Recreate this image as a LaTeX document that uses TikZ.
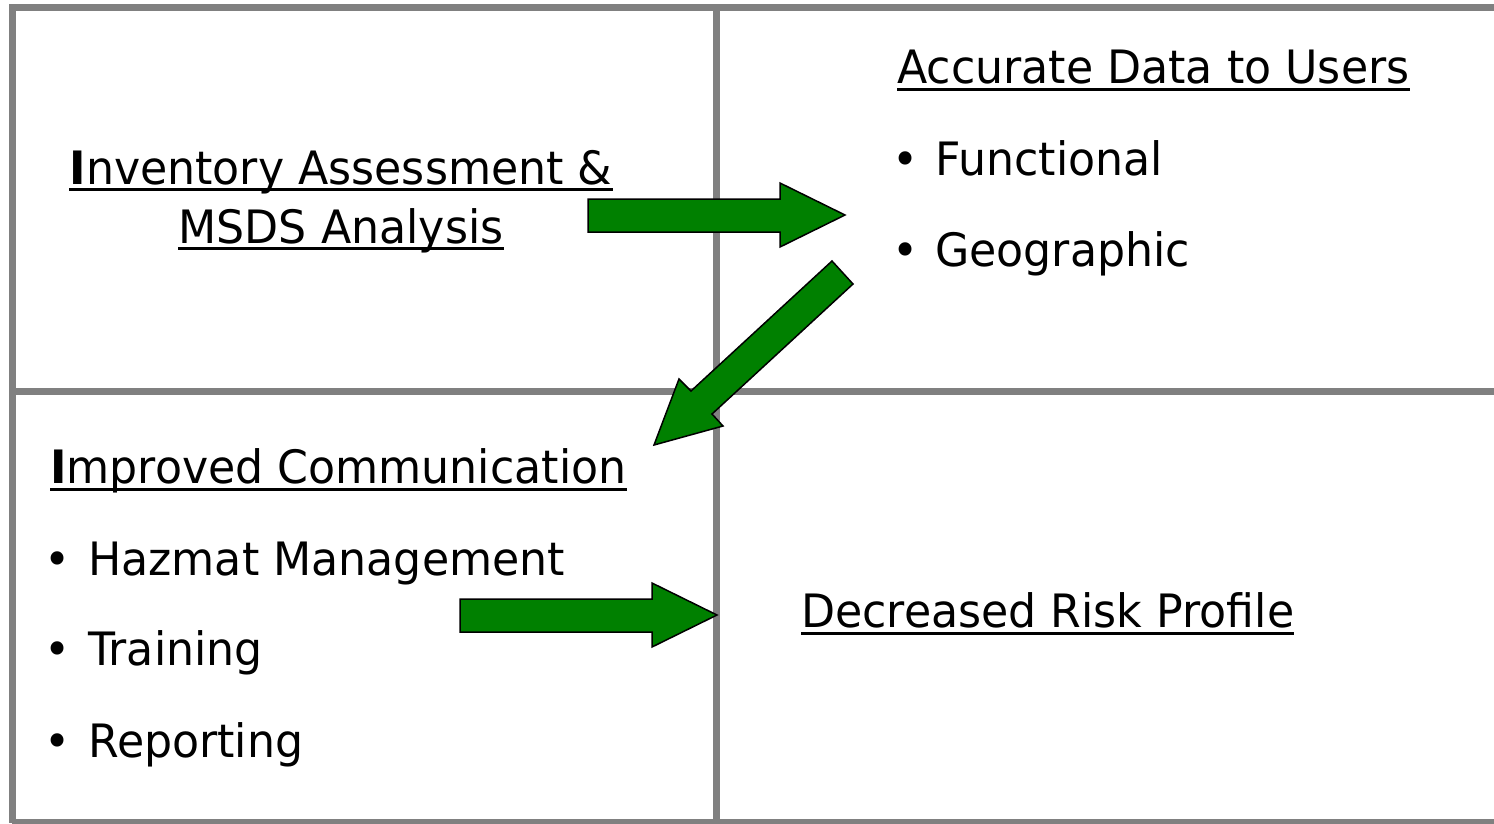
\documentclass[tikz,border=0pt]{standalone}
\usepackage{fontspec}
\setmainfont{DejaVu Sans}[FakeStretch=0.962]
\definecolor{gridgray}{RGB}{128,128,128}
\definecolor{arrowgreen}{RGB}{0,128,0}
\begin{document}
\begin{tikzpicture}[x=1pt,y=-1pt,
  gridline/.style={draw=gridgray, line width=7pt},
  blockarrow/.style={fill=arrowgreen, draw=black, line width=1.5pt, line join=miter},
  lbl/.style={inner sep=0pt, anchor=base west, font=\fontsize{46}{52}\selectfont},
  clbl/.style={lbl, anchor=base},
  bul/.style={inner sep=0pt, anchor=base, font=\fontsize{46}{52}\selectfont},
  uline/.style={line width=3pt}]
\useasboundingbox (0,0) rectangle (1494,823);
\clip (0,0) rectangle (1494,823);
% grid
\draw[gridline] (12,822.5) -- (12,7) -- (1520,7);
\draw[gridline] (12,822.5) -- (1520,822.5);
\draw[gridline] (716.5,7) -- (716.5,823);
\draw[gridline] (12,391) -- (1520,391);
% arrows
\draw[blockarrow] (588,199) -- (780,199) -- (780,183) -- (845,215) -- (780,247) -- (780,232) -- (588,232) -- cycle;
\draw[blockarrow] (832,261) -- (853,284) -- (712,414) -- (723,426) -- (654,445) -- (679,379) -- (691,391) -- cycle;
\draw[blockarrow] (460,599) -- (652,599) -- (652,583) -- (717,615) -- (652,647) -- (652,632) -- (460,632) -- cycle;
% top-left
\node[clbl] (inv1) at (341,184) {\textbf{I}nventory Assessment \&};
\node[clbl] (inv2) at (341,243) {MSDS Analysis};
\draw[uline] ([yshift=-5pt]inv1.base west) -- ([yshift=-5pt]inv1.base east);
\draw[uline] ([yshift=-5pt]inv2.base west) -- ([yshift=-5pt]inv2.base east);
% top-right
\node[lbl] (acc) at (897,83) {Accurate Data to Users};
\draw[uline] ([yshift=-6pt]acc.base west) -- ([yshift=-6pt]acc.base east);
\node[bul] (b1) at (906,175) {•};
\node[lbl] (fun) at (935,175) {Functional};
\node[bul] (b2) at (906,266) {•};
\node[lbl] (geo) at (935,266) {Geographic};
% bottom-left
\node[lbl] (imp) at (50,483) {\textbf{I}mproved Communication};
\draw[uline] ([yshift=-6pt]imp.base west) -- ([yshift=-6pt]imp.base east);
\node[bul] (b3) at (58,575) {•};
\node[lbl] (haz) at (88,575) {Hazmat Management};
\node[bul] (b4) at (58,665) {•};
\node[lbl] (tra) at (88,665) {Training};
\node[bul] (b5) at (58,757) {•};
\node[lbl] (rep) at (88,757) {Reporting};
% bottom-right
\node[lbl] (dec) at (801,627) {Decreased Risk Profile};
\draw[uline] ([yshift=-6pt]dec.base west) -- ([yshift=-6pt]dec.base east);
\end{tikzpicture}
\end{document}
